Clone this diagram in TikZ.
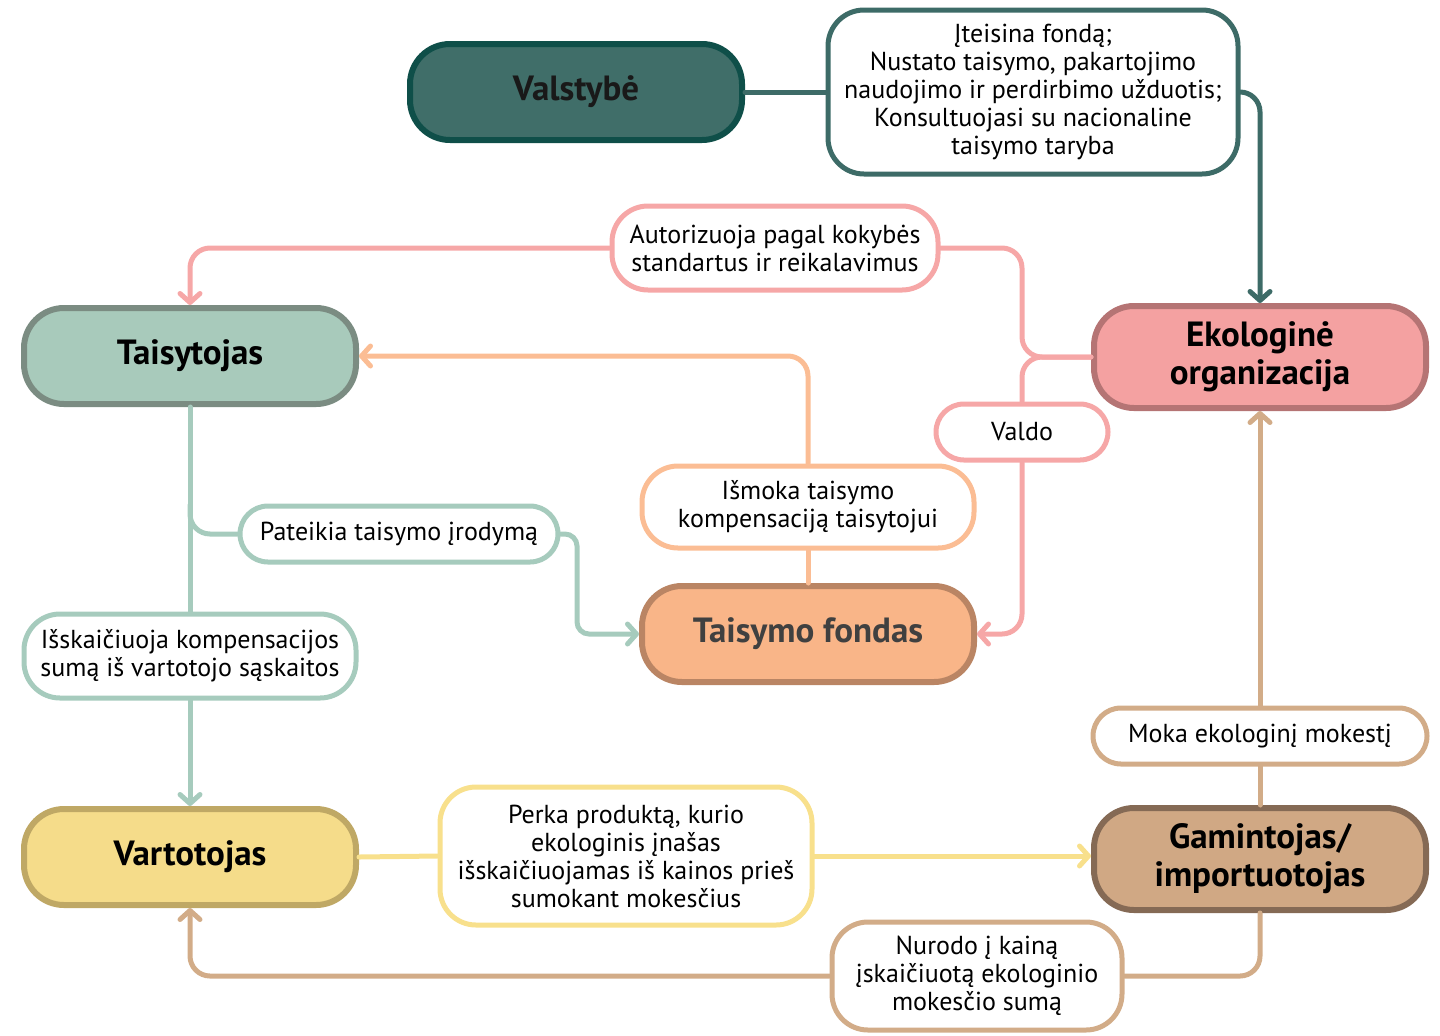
\documentclass[tikz,border=0pt]{standalone}
\usepackage{fontspec}
\setmainfont{PT Sans}
\usetikzlibrary{arrows.meta}
\definecolor{valfill}{HTML}{406E69}
\definecolor{valdraw}{HTML}{0F4F49}
\definecolor{tealline}{HTML}{3D6B67}
\definecolor{pinkline}{HTML}{F6A7A7}
\definecolor{ecofill}{HTML}{F4A1A1}
\definecolor{ecodraw}{HTML}{B57474}
\definecolor{taisfill}{HTML}{A8CABB}
\definecolor{taisdraw}{HTML}{7B8C82}
\definecolor{mintline}{HTML}{A6CBBD}
\definecolor{orline}{HTML}{FBBD94}
\definecolor{fondfill}{HTML}{F9B588}
\definecolor{fonddraw}{HTML}{BA8564}
\definecolor{vartfill}{HTML}{F5DC8A}
\definecolor{vartdraw}{HTML}{BFA865}
\definecolor{yelline}{HTML}{F8E08C}
\definecolor{gamfill}{HTML}{D0A884}
\definecolor{gamdraw}{HTML}{856A55}
\definecolor{tanline}{HTML}{D2AC88}
\begin{document}
\begin{tikzpicture}[x=0.5pt,y=-0.5pt,
  mainbox/.style={rounded corners=20pt, line width=3pt, minimum width=166pt, minimum height=48pt, inner sep=0pt, align=center, font=\bfseries\fontsize{17.5}{19}\selectfont},
  labbox/.style={rounded corners=18pt, line width=2.5pt, fill=white, inner sep=0pt, align=center, font=\fontsize{13}{14}\selectfont},
  conn/.style={line width=2.5pt, rounded corners=10pt, line cap=round},
  arr/.style={-{Straight Barb[length=4.5pt,width=10pt,line cap=round,line join=round]}},
]
\useasboundingbox (0,0) rectangle (1440,1035);
% main nodes
\node[mainbox, fill=valfill, draw=valdraw, text=black!90] (val) at (576,92) {Valstybė};
\node[mainbox, fill=ecofill, draw=ecodraw, minimum height=51pt] (eco) at (1260,357) {Ekologinė\\organizacija};
\node[mainbox, fill=taisfill, draw=taisdraw] (tais) at (190,356) {Taisytojas};
\node[mainbox, fill=fondfill, draw=fonddraw, text=black!75] (fond) at (808,634) {Taisymo fondas};
\node[mainbox, fill=vartfill, draw=vartdraw] (vart) at (190,857) {Vartotojas};
\node[mainbox, fill=gamfill, draw=gamdraw, minimum height=51pt] (gam) at (1260,859) {Gamintojas/\\importuotojas};
% label nodes
\node[labbox, draw=tealline, minimum width=205pt, minimum height=82pt] (l1) at (1033,92) {Įteisina fondą;\\Nustato taisymo, pakartojimo\\naudojimo ir perdirbimo užduotis;\\Konsultuojasi su nacionaline\\taisymo taryba};
\node[labbox, draw=pinkline, minimum width=163pt, minimum height=42pt] (aut) at (775,248) {Autorizuoja pagal kokybės\\standartus ir reikalavimus};
\node[labbox, draw=pinkline, rounded corners=14pt, minimum width=86pt, minimum height=28pt] (valdo) at (1022,432) {Valdo};
\node[labbox, draw=orline, minimum width=166pt, minimum height=41pt] (ism) at (808,507) {Išmoka taisymo\\kompensaciją taisytojui};
\node[labbox, draw=mintline, rounded corners=14pt, minimum width=159pt, minimum height=28pt] (pat) at (399,534) {Pateikia taisymo įrodymą};
\node[labbox, draw=mintline, minimum width=166pt, minimum height=42pt] (isk) at (190,656) {Išskaičiuoja kompensacijos\\sumą iš vartotojo sąskaitos};
\node[labbox, draw=yelline, minimum width=186pt, minimum height=69pt] (per) at (626,856) {Perka produktą, kurio\\ekologinis įnašas\\išskaičiuojamas iš kainos prieš\\sumokant mokesčius};
\node[labbox, draw=tanline, rounded corners=14pt, minimum width=167pt, minimum height=28pt] (moka) at (1260,736) {Moka ekologinį mokestį};
\node[labbox, draw=tanline, minimum width=145pt, minimum height=54pt] (nur) at (977,976) {Nurodo į kainą\\įskaičiuotą ekologinio\\mokesčio sumą};
% helper coordinates
\coordinate (bx) at (1022,357);
\coordinate (tb) at (190,505);
\coordinate (px) at (577,534);
% connectors
\draw[conn, tealline] (val.east) -- (l1.west);
\draw[conn, tealline, arr] (l1.east) -| (eco.north);
\draw[conn, pinkline] (eco.west) -- (bx) |- (aut.east);
\draw[conn, pinkline, arr] (aut.west) -| (tais.north);
\draw[conn, pinkline] (eco.west) -- (bx) -- (valdo.north);
\draw[conn, pinkline, arr] (valdo.south) |- (fond.east);
\draw[conn, orline] (fond.north) -- (ism.south);
\draw[conn, orline, arr] (ism.north) |- (tais.east);
\draw[conn, mintline] (tais.south) -- (isk.north);
\draw[conn, mintline, arr] (isk.south) -- (vart.north);
\draw[conn, mintline] (tb) |- (pat.west);
\draw[conn, mintline, arr, rounded corners=6pt] (pat.east) -- (px) |- (fond.west);
\draw[conn, yelline] (vart.east) -- (per.west);
\draw[conn, yelline, arr] (per.east) -- (gam.west |- per.east);
\draw[conn, tanline] (gam.north) -- (moka.south);
\draw[conn, tanline, arr] (moka.north) -- (eco.south);
\draw[conn, tanline] (gam.south) |- (nur.east);
\draw[conn, tanline, arr] (nur.west) -| (vart.south);
\end{tikzpicture}
\end{document}
